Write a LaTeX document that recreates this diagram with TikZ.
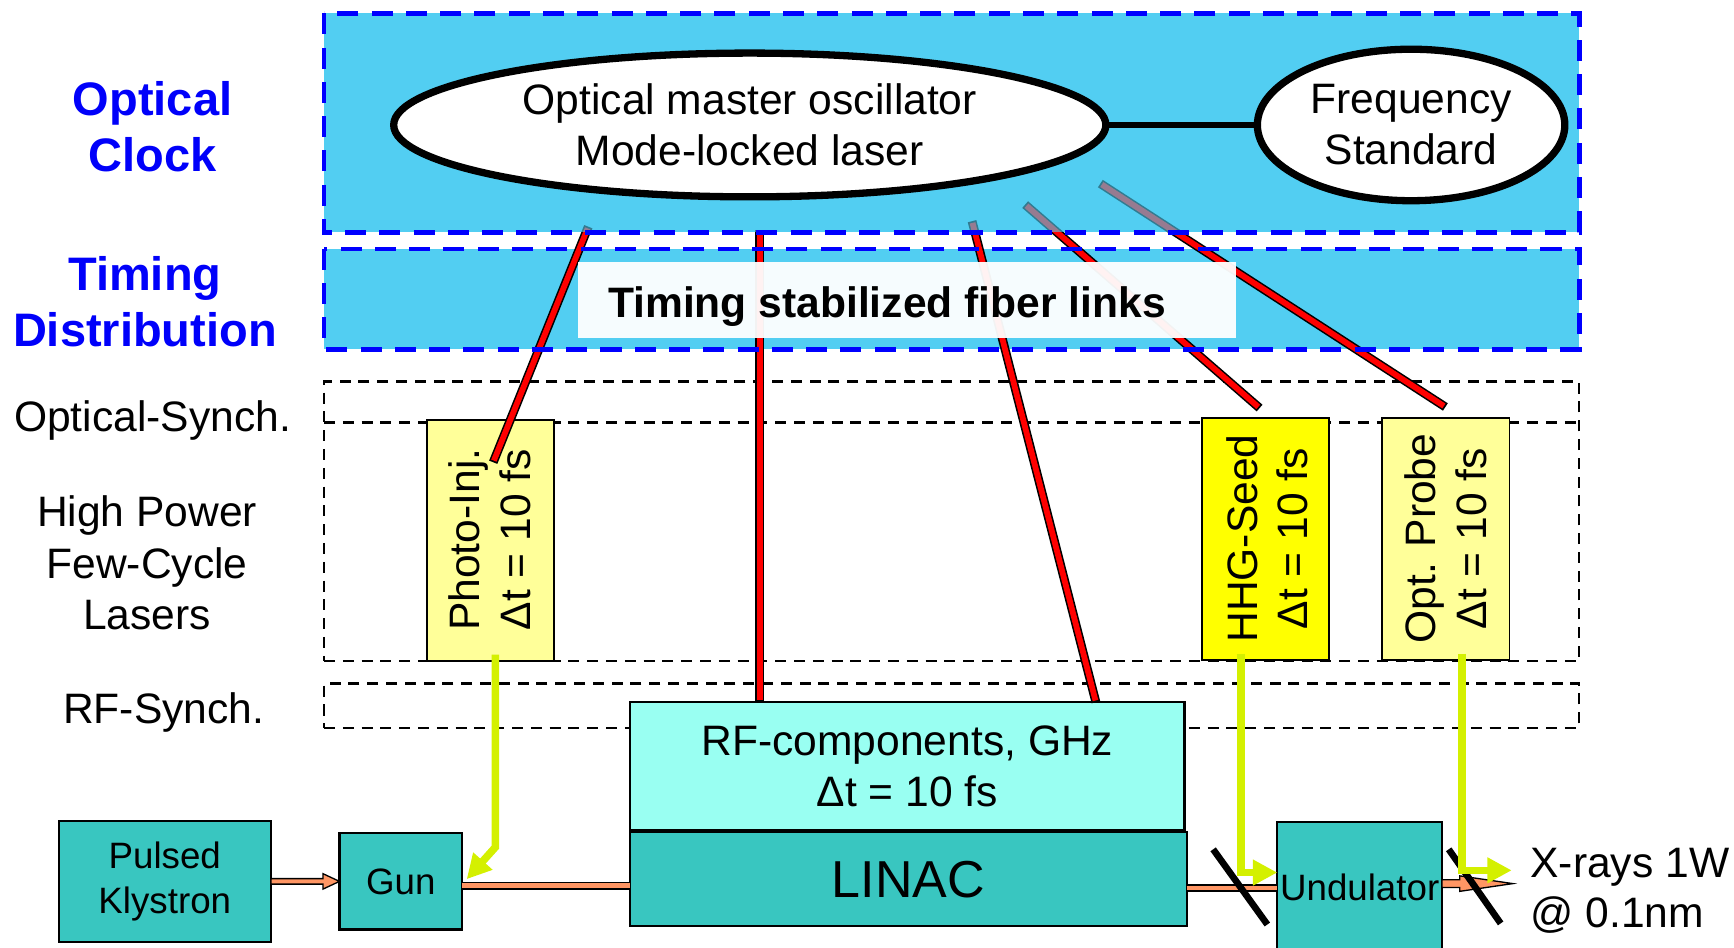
\documentclass[tikz,border=0pt]{standalone}
\usepackage{fontspec}
\setmainfont{Liberation Sans}
\usetikzlibrary{arrows.meta,calc,shapes.geometric}

\definecolor{clockcyan}{RGB}{82,206,242}
\definecolor{dashblue}{RGB}{0,0,255}
\definecolor{lblblue}{RGB}{0,0,250}
\definecolor{tealbox}{RGB}{57,198,192}
\definecolor{aquabox}{RGB}{153,255,242}
\definecolor{lyellow}{RGB}{255,255,153}
\definecolor{byellow}{RGB}{255,255,0}
\definecolor{salmonbeam}{RGB}{255,150,100}
\definecolor{chartgreen}{RGB}{212,240,0}
\definecolor{fiberred}{RGB}{255,0,0}

\newcommand\fiberlink[2]{%
  \draw[line width=4pt, black] (#1) -- (#2);
  \draw[line width=2.6pt, fiberred, shorten <=0.8pt, shorten >=0.8pt] (#1) -- (#2);}

\tikzset{
  base/.style={inner sep=0pt, outer sep=0pt},
  rtxt/.style={base, font=\fontsize{19.25pt}{23pt}\selectfont, align=center},
  stxt/.style={base, font=\fontsize{16.6pt}{20.5pt}\selectfont, align=center},
  blbl/.style={base, font=\fontsize{21.25pt}{25.5pt}\selectfont\bfseries, text=lblblue, align=center},
  bluedash/.style={draw=dashblue, line width=2.1pt, dash pattern=on 9.5pt off 6pt},
  syncdash/.style={draw=black, line width=1pt, dash pattern=on 5pt off 3.5pt},
  syncbox/.style={base, syncdash},
  boxdraw/.style={base, draw=black, line width=1pt},
  ellnode/.style={ellipse, draw=black, line width=3.3pt, fill=white, rtxt},
  beamband/.style={draw=black, line width=0.6pt, double=salmonbeam, double distance=2.2pt},
  beampoly/.style={draw=black, line width=0.6pt, fill=salmonbeam},
  chartarrow/.style={draw=chartgreen, line width=3.4pt, -{Triangle[length=11pt,width=11pt]}},
  mirror/.style={draw=black, line width=3pt},
}

\begin{document}
\begin{tikzpicture}[x=0.5pt,y=-0.5pt]
\useasboundingbox (0,0) rectangle (1568,857);

% blue regions (fill)
\node[base, fill=clockcyan, minimum width=567.5pt, minimum height=99pt] (clock) at (860.5,111) {};
\node[base, fill=clockcyan, minimum width=567.5pt, minimum height=45.5pt] (timing) at (860.5,270.5) {};

% black dashed rows
\node[syncbox, minimum width=567.5pt, minimum height=126.5pt] (lasers) at (860.5,471.5) {};
\coordinate (osy) at (0,382);
\draw[syncdash] (lasers.west |- osy) -- (lasers.east |- osy);
\node[syncbox, minimum width=567.5pt, minimum height=20pt] (rfsync) at (860.5,638) {};

% laser boxes
\node[boxdraw, line width=0.8pt, fill=lyellow, minimum width=57.5pt, minimum height=109pt] (pinj) at (443.5,489) {};
\node[boxdraw, fill=byellow, minimum width=57.5pt, minimum height=109.5pt] (hhg) at (1144.5,487.5) {};
\node[boxdraw, line width=0.8pt, fill=lyellow, minimum width=57.5pt, minimum height=109.5pt] (probe) at (1307.5,487.5) {};

% RF components and LINAC
\node[boxdraw, fill=aquabox, minimum width=250.5pt, minimum height=58pt, rtxt] (rf) at (820.5,693) {RF-components, GHz\\Δt = 10 fs};
\node[boxdraw, fill=tealbox, minimum width=251.5pt, minimum height=42.5pt, font=\fontsize{23.5pt}{28pt}\selectfont] (linac) at (821.5,795) {LINAC};

% fiber links
\coordinate (f1a) at (532,205);
\coordinate (f1b) at (446,418);
\coordinate (f2a) at (687,208);
\coordinate (f3a) at (879,200);
\coordinate (f3b) at (991,635);
\coordinate (f4a) at (927,185);
\coordinate (f4b) at (1139,369);
\coordinate (f5a) at (995,166);
\coordinate (f5b) at (1307,368);
\fiberlink{f1a}{f1b}
\fiberlink{f2a}{f2a |- rf.north}
\fiberlink{f3a}{f3b}
\fiberlink{f4a}{f4b}
\fiberlink{f5a}{f5b}

% fade of the fibers under the clock layer
\fill[clockcyan, opacity=0.6] (clock.north west) rectangle (clock.south east);

% fiber link label
\node[base, fill=white, opacity=0.95, minimum width=297.5pt, minimum height=34.5pt] (fiberbox) at (820.5,271.5) {};
\node[base, font=\fontsize{19.25pt}{23pt}\selectfont\bfseries] (fibertxt) at (802,277) {Timing stabilized fiber links};

% oscillator and frequency standard
\node[ellnode, minimum width=322pt, minimum height=65pt] (oms) at (678,113) {Optical master oscillator\\Mode-locked laser};
\node[ellnode, minimum width=139pt, minimum height=68.5pt] (fstd) at (1276,113) {Frequency\\Standard};
\draw[line width=2.6pt] (oms.east) -- (fstd.west);

% blue dashed borders
\draw[bluedash] (clock.north west) rectangle (clock.south east);
\draw[bluedash] (timing.north west) rectangle (timing.south east);

% laser box texts
\node[rtxt, rotate=90] (pinjt) at (443,488) {Photo-Inj.\\Δt = 10 fs};
\node[rtxt, rotate=90] (hhgt) at (1146,487) {HHG-Seed\\Δt = 10 fs};
\node[rtxt, rotate=90] (probet) at (1307,487) {Opt. Probe\\Δt = 10 fs};

% beamline boxes
\node[boxdraw, fill=tealbox, minimum width=96pt, minimum height=54.5pt, stxt] (kly) at (149,797) {Pulsed\\Klystron};
\node[boxdraw, fill=tealbox, minimum width=55.5pt, minimum height=43.5pt, stxt] (gun) at (362.5,797) {Gun};
\node[boxdraw, fill=tealbox, minimum width=74.5pt, minimum height=59.5pt, stxt] (und) at (1229.5,802.5) {Undulator};

% klystron -> gun arrow
\draw[beampoly] ([yshift=1.25pt]kly.east) -- ([xshift=-7.5pt,yshift=1.25pt]gun.west)
  -- ([xshift=-7.5pt,yshift=3.5pt]gun.west) -- (gun.west)
  -- ([xshift=-7.5pt,yshift=-3.5pt]gun.west) -- ([xshift=-7.5pt,yshift=-1.25pt]gun.west)
  -- ([yshift=-1.25pt]kly.east) -- cycle;

% beam bands
\coordinate (by1) at (0,801);
\coordinate (by2) at (0,803);
\draw[beamband] (gun.east |- by1) -- (linac.west |- by1);
\draw[beamband] (linac.east |- by2) -- (und.west |- by2);

% output x-ray arrow
\coordinate (oa) at ([yshift=1.75pt]und.east);
\draw[beampoly] ([yshift=1.75pt]oa) -- ([xshift=8pt,yshift=1.75pt]oa)
  -- ([xshift=8pt,yshift=3.5pt]oa) -- ([xshift=32pt]oa)
  -- ([xshift=8pt,yshift=-3.5pt]oa) -- ([xshift=8pt,yshift=-1.75pt]oa)
  -- ([yshift=-1.75pt]oa) -- cycle;

% mirrors
\coordinate (m1a) at (1097,768);
\coordinate (m1b) at (1146,836);
\coordinate (m2a) at (1310,768);
\coordinate (m2b) at (1357,835);
\draw[mirror] (m1a) -- (m1b);
\draw[mirror] (m2a) -- (m2b);

% laser pulses (chartreuse arrows)
\coordinate (a1s) at ([xshift=2.25pt,yshift=3pt]pinj.south);
\draw[chartarrow] (a1s) -- ++(0,174) -- ([xshift=2pt,yshift=1pt]gun.east);
\coordinate (a2s) at ([xshift=-11.25pt,yshift=3pt]hhg.south);
\coordinate (a2y) at (0,789);
\draw[chartarrow] (a2s) -- (a2s |- a2y) -- (und.west |- a2y);
\coordinate (a3s) at ([xshift=7.25pt,yshift=3pt]probe.south);
\coordinate (a3e) at (1367,787);
\draw[chartarrow] (a3s) -- (a3s |- a3e) -- (a3e);

% output label
\node[rtxt, align=left, anchor=west] (xray) at (1384,805.5) {X-rays 1W\\@ 0.1nm};

% left labels
\node[blbl] (lclock) at (138,114.5) {Optical\\Clock};
\node[blbl] (ltiming) at (131,273) {Timing\\Distribution};
\node[rtxt] (losync) at (138,380) {Optical-Synch.};
\node[rtxt, font=\fontsize{19.25pt}{23.25pt}\selectfont] (llasers) at (133,509) {High Power\\Few-Cycle\\Lasers};
\node[rtxt] (lrf) at (148,644) {RF-Synch.};
\end{tikzpicture}
\end{document}
